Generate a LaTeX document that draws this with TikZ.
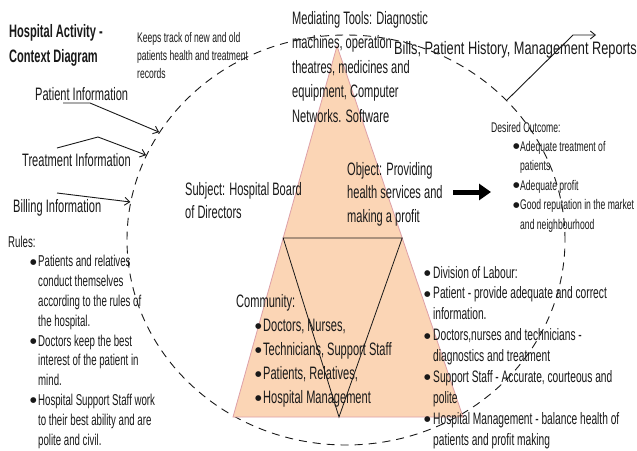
\documentclass[tikz,border=0pt]{standalone}
\usepackage{fontspec}
\setmainfont[FakeStretch=0.615]{Liberation Sans}
\newfontfamily\billsfont[FakeStretch=0.71]{Liberation Sans}
\newfontfamily\symfont{DejaVu Sans}
\usetikzlibrary{shapes.geometric,arrows.meta,calc}
\definecolor{peach}{RGB}{251,213,181}
\definecolor{triedge}{RGB}{222,160,168}
\definecolor{ink}{RGB}{25,25,25}
\newcommand{\blk}[1]{\begin{tabular}[t]{@{}l@{}}#1\end{tabular}}
\newcommand{\bul}[1]{\makebox[#1][l]{\raisebox{2.6pt}{\fontsize{7.5}{7.5}\symfont ●}}}
\begin{document}
\begin{tikzpicture}[x=1pt,y=-1pt,
  txt/.style={anchor=base west,inner sep=0pt,text=ink},
  fmain/.style={font=\fontsize{18}{23.5}\selectfont},
  conn/.style={draw=ink,line width=0.9pt,-{Straight Barb[length=5pt,width=8pt]}},
  tri/.style={fill=peach,draw=triedge,line width=0.8pt},
  inv/.style={draw=ink,line width=0.8pt}]
\fill[white] (0,0) rectangle (637,450);
\useasboundingbox (0,0) rectangle (637,450);

% dashed ellipse (activity boundary)
\node[ellipse,draw=ink,line width=0.9pt,dash pattern=on 8pt off 6pt,
      minimum width=438pt,minimum height=410pt,inner sep=0pt] (E) at (346,240) {};

% triangles
\coordinate (A) at (337,46);
\coordinate (B) at (233,417);
\coordinate (C) at (463,417);
\filldraw[tri] (A) -- (B) -- (C) -- cycle;
\coordinate (P) at ($(A)!0.5175!(B)$);
\coordinate (Q) at ($(A)!0.5175!(C)$);
\coordinate (R) at (339,417);
\draw[inv] (P) -- (Q) -- (R) -- cycle;

% title
\node[txt,font=\bfseries\fontsize{18}{25}\selectfont] (title) at (9,37)
  {\blk{Hospital Activity -\\Context Diagram}};
\node[txt,font=\fontsize{13.9}{18}\selectfont] (keeps) at (137,42)
  {\blk{Keeps track of new and old\\patients health and treatment\\records}};
\node[txt,font=\fontsize{18}{24.6}\selectfont] (tools) at (292,24)
  {\blk{Mediating Tools: Diagnostic\\machines, operation\\theatres, medicines and\\equipment, Computer\\Networks. Software}};
\node[txt,font=\billsfont\fontsize{18}{22}\selectfont] (bills) at (394,54)
  {Bills, Patient History, Management Reports};

% inputs
\node[txt,fmain] (pinfo) at (35,100) {Patient Information};
\node[txt,fmain] (tinfo) at (22,166) {Treatment Information};
\node[txt,fmain] (binfo) at (13,212) {Billing Information};

\node[txt,fmain] (subject) at (185,195) {\blk{Subject: Hospital Board\\of Directors}};
\node[txt,fmain] (object) at (347,175) {\blk{Object: Providing\\health services and\\making a profit}};

\node[txt,font=\fontsize{14}{19.4}\selectfont] (desired) at (491,132)
  {\blk{Desired Outcome:\\
  \hspace*{22pt}\bul{7pt}Adequate treatment of\\
  \hspace*{29pt}patients\\
  \hspace*{22pt}\bul{7pt}Adequate profit\\
  \hspace*{22pt}\bul{7pt}Good reputation in the market\\
  \hspace*{29pt}and neighbourhood}};

\node[txt,font=\fontsize{15.7}{19.8}\selectfont] (rules) at (8,247)
  {\blk{Rules:\\
  \hspace*{22pt}\bul{8pt}Patients and relatives\\
  \hspace*{30pt}conduct themselves\\
  \hspace*{30pt}according to the rules of\\
  \hspace*{30pt}the hospital.\\
  \hspace*{22pt}\bul{8pt}Doctors keep the best\\
  \hspace*{30pt}interest of the patient in\\
  \hspace*{30pt}mind.\\
  \hspace*{22pt}\bul{8pt}Hospital Support Staff work\\
  \hspace*{30pt}to their best ability and are\\
  \hspace*{30pt}polite and civil.}};

\node[txt,font=\fontsize{18}{24}\selectfont] (community) at (236,307)
  {\blk{Community:\\
  \hspace*{19pt}\bul{8pt}Doctors, Nurses,\\
  \hspace*{19pt}\bul{8pt}Technicians, Support Staff\\
  \hspace*{19pt}\bul{8pt}Patients, Relatives,\\
  \hspace*{19pt}\bul{8pt}Hospital Management}};

\node[txt,font=\fontsize{16.6}{20.9}\selectfont] (labour) at (424,278)
  {\blk{\bul{9pt}Division of Labour:\\
  \bul{9pt}Patient - provide adequate and correct\\
  \hspace*{9pt}information.\\
  \bul{9pt}Doctors,nurses and technicians -\\
  \hspace*{9pt}diagnostics and treatment\\
  \bul{9pt}Support Staff - Accurate, courteous and\\
  \hspace*{9pt}polite\\
  \bul{9pt}Hospital Management - balance health of\\
  \hspace*{9pt}patients and profit making}};

% connectors
\coordinate (p1) at (63,103);
\coordinate (p2) at (90,103);
\draw[conn] (p1) -- (p2) -- (E.150.7);
\coordinate (t1) at (57,148);
\coordinate (t2) at (98,137);
\draw[conn] (t1) -- (t2) -- (E.157.8);
\coordinate (b1) at (57,193);
\draw[conn] (b1) -- (E.170.5);
\coordinate (o1) at (573,35);
\coordinate (o2) at (596,35);
\draw[conn] (E.41.6) -- (o1) -- (o2);

% object -> outcome arrow
\coordinate (a1) at (453,192);
\coordinate (a2) at (491,192);
\draw[draw=black,line width=5pt,-{Triangle[length=12pt,width=16pt]}] (a1) -- (a2);
\end{tikzpicture}
\end{document}
